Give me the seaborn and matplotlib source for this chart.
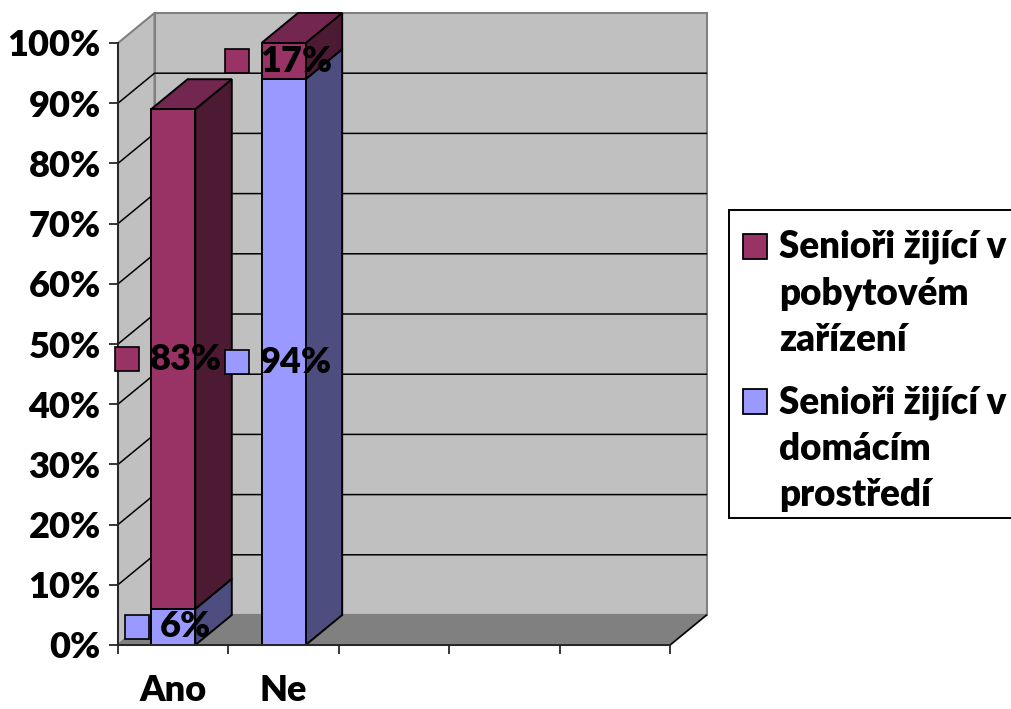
import numpy as np
import matplotlib
matplotlib.use("Agg")
import matplotlib.pyplot as plt
from matplotlib.legend_handler import HandlerPatch
from matplotlib.patches import Patch, Polygon, Rectangle
import seaborn as sns

categories = ["Ano", "Ne"]
home_values = [6, 94]
facility_values = [83, 6]
home_labels = ["6%", "94%"]
facility_labels = ["83%", "17%"]
series_names = ["Senioři žijící v\npobytovém\nzařízení", "Senioři žijící v\ndomácím\nprostředí"]
y_ticks = [0, 10, 20, 30, 40, 50, 60, 70, 80, 90, 100]

# colours of the old excel palette
RED, RED_TOP, RED_SIDE = "#993366", "#732650", "#4D1A33"
BLUE, BLUE_TOP, BLUE_SIDE = "#9999FF", "#7373BF", "#4D4D80"
WALL, FLOOR, WALL_EDGE = "#C0C0C0", "#808080", "#808080"

W, H = 1011, 709
LEFT, RIGHT, TOP, BOTTOM = 118, 670, 43, 645
SLOTS = 5
PX_X = (RIGHT - LEFT) / SLOTS
PX_Y = (BOTTOM - TOP) / 100
DX = 36.5 / PX_X  # 3d depth in data units
DY = 30 / PX_Y
BAR_W = 0.4
LW = 1.4
FONT = 26
WEIGHT = "heavy"

sns.set_theme(style="ticks")
plt.rcParams["font.family"] = ["Lato", "DejaVu Sans"]
plt.rcParams["font.weight"] = WEIGHT

fig = plt.figure(figsize=(W / 100, H / 100), dpi=100)
ax = fig.add_axes([LEFT / W, 1 - BOTTOM / H, (RIGHT - LEFT) / W, (BOTTOM - TOP) / H])
ax.patch.set_alpha(0)


def face(points, color, edge="black", lw=LW, z=2.0):
    ax.add_patch(Polygon(points, closed=True, facecolor=color, edgecolor=edge,
                         linewidth=lw, clip_on=False, zorder=z, joinstyle="miter"))


x0, x1 = -0.5, SLOTS - 0.5

# walls and floor
face([(x0 + DX, DY), (x1 + DX, DY), (x1 + DX, 100 + DY), (x0 + DX, 100 + DY)], WALL, WALL_EDGE, 1.5, 0.1)
face([(x0, 0), (x0 + DX, DY), (x0 + DX, 100 + DY), (x0, 100)], WALL, WALL_EDGE, 1.5, 0.1)
face([(x0, 0), (x1, 0), (x1 + DX, DY), (x0 + DX, DY)], FLOOR, WALL_EDGE, 1.5, 0.15)
for v in y_ticks[1:-1]:
    ax.plot([x0, x0 + DX, x1 + DX], [v, v + DY, v + DY], color="black", lw=1.1,
            clip_on=False, zorder=0.3)
ax.plot([x1, x1 + DX], [0, DY], color="black", lw=1.1, clip_on=False, zorder=0.3)

# front faces, the totals first and the lower series over them
totals = np.array(home_values) + np.array(facility_values)
sns.barplot(x=categories, y=totals, color=RED, saturation=1, width=BAR_W,
            edgecolor="black", linewidth=LW, ax=ax, zorder=3)
sns.barplot(x=categories, y=home_values, color=BLUE, saturation=1, width=BAR_W,
            edgecolor="black", linewidth=LW, ax=ax, zorder=3.1)

# sides and tops
for i, (low, top) in enumerate(zip(home_values, totals)):
    xl, xr = i - BAR_W / 2, i + BAR_W / 2
    face([(xr, 0), (xr + DX, DY), (xr + DX, low + DY), (xr, low)], BLUE_SIDE)
    face([(xr, low), (xr + DX, low + DY), (xr + DX, top + DY), (xr, top)], RED_SIDE)
    face([(xl, top), (xr, top), (xr + DX, top + DY), (xl + DX, top + DY)], RED_TOP)

ax.set_xlim(x0, x1)
ax.set_ylim(0, 100)

# data labels, the key square and the text are centred as one group
fig.canvas.draw()
renderer = fig.canvas.get_renderer()
KEY, GAP = 24, 11


def data_label(i, y, text, color):
    t = ax.text(i, y, text, fontsize=FONT, fontweight=WEIGHT, color="black", va="center",
                ha="left", zorder=6, clip_on=False)
    width = t.get_window_extent(renderer).width
    group = KEY + GAP + width
    start = -5 - group / 2
    t.set_x(i + (start + KEY + GAP) / PX_X)
    ax.plot([i + (start + KEY / 2) / PX_X], [y], marker="s", ms=KEY * 0.72 - 0.3, mfc=color, mec="black",
            mew=1.2, clip_on=False, zorder=5, ls="none")


for i in range(len(categories)):
    data_label(i, home_values[i] / 2, home_labels[i], BLUE)
    data_label(i, home_values[i] + facility_values[i] / 2, facility_labels[i], RED)

# axes
sns.despine(ax=ax)
ax.spines["left"].set_linewidth(1.4)
ax.spines["bottom"].set_linewidth(1.4)
ax.spines["left"].set_zorder(4)
ax.spines["bottom"].set_zorder(4)
ax.set_yticks(y_ticks)
ax.set_yticklabels([f"{v}%" for v in y_ticks], fontsize=FONT, fontweight=WEIGHT, color="black")
ax.tick_params(axis="y", length=6.5, width=1.1, pad=6, color="black")
ax.set_xticks(np.arange(x0, x1 + 1))
ax.set_xticklabels([])
ax.set_xticks(range(len(categories)), minor=True)
ax.set_xticklabels(categories, minor=True, fontsize=FONT, fontweight=WEIGHT, color="black")
ax.tick_params(axis="x", which="major", length=6.5, width=1.1, color="black")
ax.tick_params(axis="x", which="minor", length=0, pad=21)


class FirstLineHandler(HandlerPatch):
    # key square sits at the first line of the wrapped label
    def create_artists(self, legend, orig_handle, xdescent, ydescent, width, height, fontsize, trans):
        p = Rectangle((-xdescent, -ydescent + 48 * 0.72), width, height, transform=trans,
                      facecolor=orig_handle.get_facecolor(), edgecolor="black", linewidth=1.3)
        return [p]


# legend frame on its own, the text block sits lower in it than a legend's even padding
fig.add_artist(Rectangle((729 / W, 1 - 518 / H), 300 / W, 308 / H, transform=fig.transFigure,
                         facecolor="white", edgecolor="black", linewidth=1.4, zorder=1))
handles = [Patch(facecolor=RED), Patch(facecolor=BLUE)]
leg = fig.legend(handles, series_names, loc="upper left",
                 bbox_to_anchor=(729 / W, 1 - 216 / H), bbox_transform=fig.transFigure,
                 borderaxespad=0, frameon=False,
                 prop={"size": 26.5, "weight": WEIGHT}, labelspacing=0.78, handlelength=0.65,
                 handleheight=0.65, handletextpad=0.33, borderpad=0.38,
                 handler_map={Patch: FirstLineHandler()})
leg.set_zorder(2)
for t in leg.get_texts():
    t.set_linespacing(1.43)
    t.set_color("black")

fig.savefig("out.png", dpi=100)
